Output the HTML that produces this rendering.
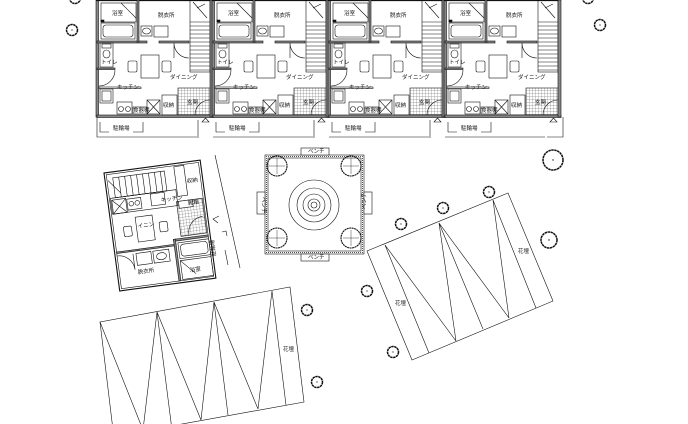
<!DOCTYPE html>
<html><head><meta charset="utf-8"><style>
html,body{margin:0;padding:0;background:#fff;width:688px;height:424px;overflow:hidden}
svg{display:block}
text{font-family:"Liberation Sans","Noto Sans CJK JP",sans-serif;font-size:5.5px;fill:#111}
</style></head><body>
<svg width="688" height="424" viewBox="0 0 688 424" xmlns="http://www.w3.org/2000/svg">
<defs>
<pattern id="grid" width="3" height="3" patternUnits="userSpaceOnUse"><path d="M0 0H3M0 0V3" stroke="#333" stroke-width="0.4" fill="none"/></pattern>
<pattern id="dots" width="2" height="2" patternUnits="userSpaceOnUse"><rect width="1" height="1" fill="#555"/></pattern>
<g id="unit" fill="none" stroke="#111" stroke-width="0.6">
 <rect x="-1" y="0" width="2.5" height="117" fill="#888" stroke="#111"/>
 <line x1="-1" y1="0.5" x2="116" y2="0.5" stroke-width="1.2"/>
 <rect x="4" y="3" width="35" height="19"/>
 <line x1="24" y1="3" x2="39" y2="18"/>
 <rect x="4" y="23" width="34" height="16"/>
 <rect x="6" y="25" width="30" height="12" rx="3"/>
 <rect x="4" y="20" width="3" height="2" fill="#111"/>
 <rect x="0" y="41" width="50" height="2" fill="#888"/>
 <rect x="40" y="0" width="2" height="42" fill="#888"/>
 <rect x="62" y="41" width="30" height="2" fill="#888"/>
 <rect x="44" y="26" width="11" height="10"/><ellipse cx="49.5" cy="31" rx="4" ry="3"/>
 <rect x="57" y="26" width="14" height="11"/>
 <path d="M77 43 A15 15 0 0 0 92 58 M77 43 V58"/>
 <rect x="93" y="0" width="20" height="72"/>
 <path d="M93 22H113M93 26H113M93 30H113M93 34H113M93 38H113M93 42H113M93 46H113M93 50H113M93 54H113M93 58H113M93 62H113M93 66H113M93 70H113"/>
 <path d="M96 2 L110 18 M100 8 L108 4"/>
 <rect x="3" y="43" width="13" height="24"/>
 <rect x="5" y="44" width="9" height="4"/><ellipse cx="9.5" cy="54" rx="3.5" ry="4"/>
 <rect x="0" y="68" width="18" height="1.5" fill="#888"/>
 <path d="M18 70 A16 16 0 0 1 2 86"/>
 <rect x="44" y="55" width="18" height="23"/>
 <rect x="31" y="61" width="9" height="11" rx="1.5"/><rect x="65" y="61" width="9" height="11" rx="1.5"/>
 <rect x="3" y="89" width="13" height="14"/><rect x="5" y="91" width="9" height="10"/>
 <rect x="2" y="87" width="42" height="1.5"/>
 <rect x="20" y="102" width="15" height="12"/><circle cx="24" cy="109" r="2.5"/><circle cx="31" cy="109" r="2.5"/>
 <rect x="36" y="107" width="14" height="7"/>
 <rect x="50" y="100" width="13" height="14"/><path d="M50 100L63 114M63 100L50 114"/>
 <rect x="65" y="95" width="15" height="20"/>
 <rect x="81" y="88" width="32" height="27" fill="url(#grid)"/>
 <path d="M113 100 A15 15 0 0 0 98 115"/>
 <rect x="0" y="115" width="116" height="2.5" fill="#888"/>
 <rect x="113" y="0" width="3" height="117" fill="#888"/>
 <path d="M3 122V132H12M36 132H46V122" />
 <path d="M105 122 L108.5 118 L112 122 Z"/>
</g>
</defs>

<g fill="none" stroke="#111" stroke-width="0.6">
 <path d="M97 117V137H197M198 120V138M213 137H313M314 120V138M329 137H429M430 120V138M445 137H545M563 117V137H547"/>
</g>
<use href="#unit" x="97" y="0"/>
<use href="#unit" x="213" y="0"/>
<use href="#unit" x="329" y="0"/>
<use href="#unit" x="445" y="0"/>
<text x="112" y="15">浴室</text><text x="158" y="17">脱衣所</text><text x="101" y="64" font-size="4.5">トイレ</text><text x="170" y="79">ダイニング</text><text x="117" y="89">キッチン</text><text x="133" y="112" font-size="4">食器棚</text><text x="163" y="107" font-size="5">収納</text><text x="187" y="104" font-size="4.5">玄関</text><text x="113" y="130" font-size="4.5">駐輪場</text>
<text x="228" y="15">浴室</text><text x="274" y="17">脱衣所</text><text x="217" y="64" font-size="4.5">トイレ</text><text x="286" y="79">ダイニング</text><text x="233" y="89">キッチン</text><text x="249" y="112" font-size="4">食器棚</text><text x="279" y="107" font-size="5">収納</text><text x="303" y="104" font-size="4.5">玄関</text><text x="229" y="130" font-size="4.5">駐輪場</text>
<text x="344" y="15">浴室</text><text x="390" y="17">脱衣所</text><text x="333" y="64" font-size="4.5">トイレ</text><text x="402" y="79">ダイニング</text><text x="349" y="89">キッチン</text><text x="365" y="112" font-size="4">食器棚</text><text x="395" y="107" font-size="5">収納</text><text x="419" y="104" font-size="4.5">玄関</text><text x="345" y="130" font-size="4.5">駐輪場</text>
<text x="460" y="15">浴室</text><text x="506" y="17">脱衣所</text><text x="449" y="64" font-size="4.5">トイレ</text><text x="518" y="79">ダイニング</text><text x="465" y="89">キッチン</text><text x="481" y="112" font-size="4">食器棚</text><text x="511" y="107" font-size="5">収納</text><text x="535" y="104" font-size="4.5">玄関</text><text x="461" y="130" font-size="4.5">駐輪場</text>

<g transform="translate(104,173) rotate(-7.6)" fill="none" stroke="#111" stroke-width="0.6">
 <rect x="0" y="0" width="97" height="119" stroke-width="1.1"/>
 <rect x="2" y="2" width="93" height="115"/>
 <rect x="8" y="6" width="52" height="20"/>
 <path d="M14 6V26M20 6V26M26 6V26M32 6V26M38 6V26M44 6V26M50 6V26M56 6V26"/>
 <path d="M3 8 L14 22 M3 26 H60"/>
 <rect x="4" y="28" width="14" height="14"/><path d="M4 28L18 42M18 28L4 42"/>
 <rect x="19" y="29" width="14" height="11"/><circle cx="23" cy="34" r="2.3"/><circle cx="29" cy="34" r="2.3"/>
 <rect x="43" y="27" width="14" height="12"/>
 <rect x="3" y="26" width="66" height="16"/>
 <rect x="70" y="3" width="10" height="30"/>
 <rect x="68" y="38" width="26" height="35" fill="url(#grid)"/>
 <rect x="70" y="38" width="14" height="7" fill="#fff"/>
 <path d="M92 56 A16 16 0 0 0 76 72"/>
 <rect x="25" y="48" width="17" height="25"/>
 <rect x="12" y="56" width="8" height="10" rx="1.5"/><rect x="48" y="56" width="8" height="10" rx="1.5"/>
 <rect x="2" y="80" width="60" height="1.5" fill="#888"/>
 <rect x="60" y="75" width="35" height="2" fill="#888"/><rect x="60" y="75" width="2" height="42" fill="#888"/>
 <rect x="64" y="79" width="31" height="16"/><rect x="66" y="81" width="27" height="12" rx="3"/>
 <rect x="64" y="97" width="31" height="19"/><path d="M64 97 L78 112"/>
 <rect x="21" y="84" width="15" height="12"/><rect x="38" y="84" width="16" height="12"/><ellipse cx="46" cy="90" rx="5" ry="3.5"/>
 <path d="M2 84 A16 16 0 0 1 18 100 M18 84 V100"/>
</g>
<g font-size="5">
<text x="161" y="202" transform="rotate(-7.6 161 202)">キッチン</text>
<text x="138" y="228" transform="rotate(-7.6 138 228)">イニン</text>
<text x="188" y="205" transform="rotate(-7.6 188 205)" font-size="4.5">靴箱</text>
<text x="138" y="274" transform="rotate(-7.6 138 274)" font-size="4.5">脱衣所</text>
<text x="190" y="272" transform="rotate(-7.6 190 272)" font-size="4.5">浴室</text>
<text x="187" y="183" transform="rotate(-7.6 187 183)" font-size="4.5">収納</text>
<text x="216" y="256" transform="rotate(-97.6 216 256)" font-size="4.5">駐輪場</text>
</g>
<g fill="none" stroke="#111" stroke-width="0.6">
 <path d="M215 155 L240 268"/>
 <path d="M218 223 L213 219 L219 216 M222 232 L226 231 L227 236 M225 250 L228 265"/>
</g>

<g fill="none" stroke="#111" stroke-width="0.6">
 <rect x="265" y="155" width="99" height="99" fill="url(#dots)"/>
 <rect x="268" y="158" width="93" height="93" fill="#fff"/>
 <rect x="301" y="148" width="28" height="7" fill="#fff"/>
 <rect x="301" y="254" width="28" height="7" fill="#fff"/>
 <rect x="257" y="192" width="8" height="22" fill="#fff"/>
 <rect x="364" y="192" width="8" height="22" fill="#fff"/>
 <circle cx="314" cy="205" r="25"/><circle cx="314" cy="205" r="17"/><circle cx="314" cy="205" r="11"/><circle cx="314" cy="205" r="6"/><circle cx="314" cy="205" r="3"/>
 <g stroke-dasharray="2 0.5" stroke-width="1.1">
  <circle cx="277" cy="166" r="10"/><circle cx="351" cy="166" r="10"/><circle cx="277" cy="238" r="10"/><circle cx="351" cy="238" r="10"/>
 </g>
 <path d="M269 166H285M277 158V174M343 166H359M351 158V174M269 238H285M277 230V246M343 238H359M351 230V246" stroke-width="0.4"/>
</g>
<text x="308" y="153" font-size="4.5">ベンチ</text>
<text x="308" y="259" font-size="4.5">ベンチ</text>
<text x="262" y="197" font-size="4.5" transform="rotate(90 262 197)">ベンチ</text>
<text x="366" y="209" font-size="4.5" transform="rotate(-90 366 209)">ベンチ</text>

<g fill="none" stroke="#111" stroke-width="0.6">
 <path d="M367 251 L508 193 L553 301 L412 360 Z"/>
 <path d="M385 245 L429 353 M385 245 L456 341 M439 223 L456 341 M439 223 L483 329 M439 223 L509 318 M493 200 L509 318 M493 200 L536 308"/>
</g>
<text x="395" y="305" font-size="4.5">花壇</text>
<text x="518" y="253" font-size="4.5">花壇</text>

<g fill="none" stroke="#111" stroke-width="0.6">
 <path d="M113 430 L100 322 L290 287 L304 402 L110 437"/>
 <path d="M100 322 L143 430 M157 312 L143 430 M157 312 L172 430 M157 312 L201 420 M214 302 L201 420 M214 302 L228 415 M214 302 L258 409 M272 291 L258 409 M272 291 L286 405"/>
</g>
<text x="283" y="351" font-size="4.5">花壇</text>

<g fill="none" stroke="#111" stroke-width="1.5" stroke-dasharray="2.5 0.5">
 <circle cx="72" cy="30" r="5.5"/><circle cx="75" cy="-2" r="5.5"/>
 <circle cx="600" cy="25" r="5.5"/><circle cx="588" cy="-2" r="5.5"/>
 <circle cx="553" cy="160" r="10"/><circle cx="549" cy="240" r="8"/>
 <circle cx="489" cy="192" r="5.5"/><circle cx="443" cy="208" r="5.5"/><circle cx="401" cy="224" r="5.5"/>
 <circle cx="367" cy="291" r="5.5"/><circle cx="393" cy="352" r="5.5"/>
 <circle cx="307" cy="310" r="5.5"/><circle cx="317" cy="382" r="5.5"/>
</g>
<g fill="#111">
 <circle cx="72" cy="30" r="0.6"/><circle cx="600" cy="25" r="0.6"/><circle cx="553" cy="160" r="0.7"/><circle cx="549" cy="240" r="0.7"/><circle cx="489" cy="192" r="0.6"/><circle cx="443" cy="208" r="0.6"/><circle cx="401" cy="224" r="0.6"/><circle cx="367" cy="291" r="0.6"/><circle cx="393" cy="352" r="0.6"/><circle cx="307" cy="310" r="0.6"/><circle cx="317" cy="382" r="0.6"/>
</g>
</svg>
</body></html>
